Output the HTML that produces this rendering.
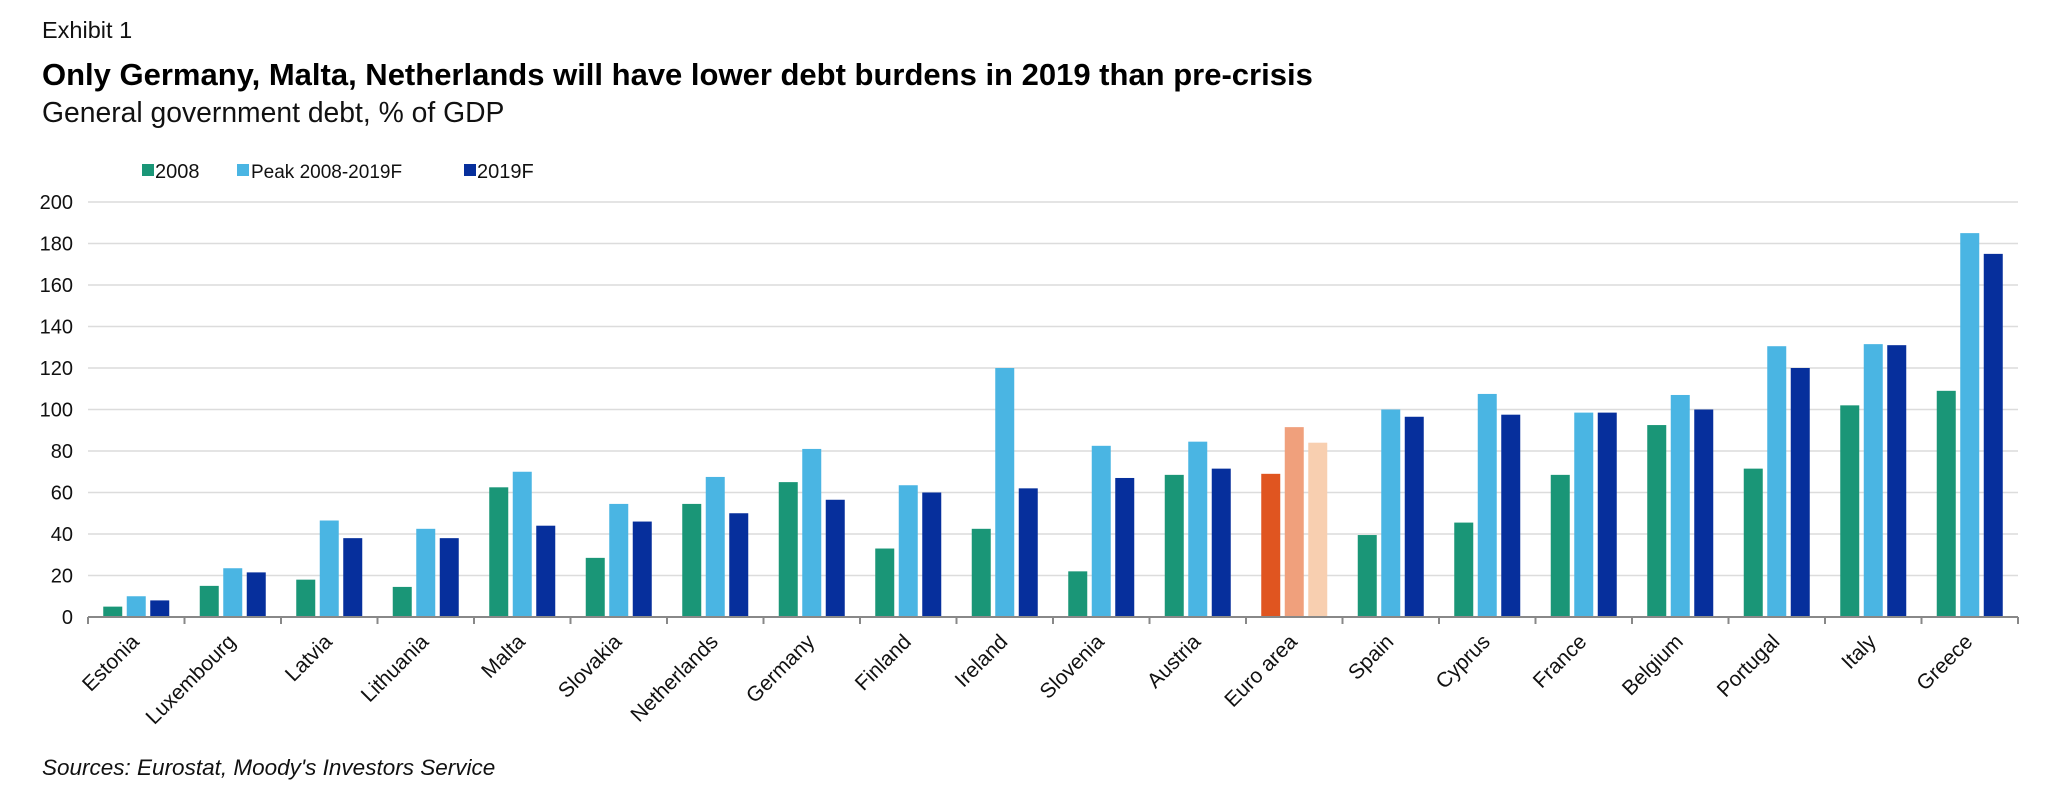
<!DOCTYPE html>
<html><head><meta charset="utf-8">
<style>
body{margin:0;background:#fff;}
svg{display:block;font-family:"Liberation Sans",sans-serif;}
</style></head>
<body>
<svg id="chart" width="2048" height="795" viewBox="0 0 2048 795">
  <text x="42" y="38" font-size="23.5" fill="#111">Exhibit 1</text>
  <text x="42" y="85" font-size="31" font-weight="bold" fill="#000">Only Germany, Malta, Netherlands will have lower debt burdens in 2019 than pre-crisis</text>
  <text x="42" y="122" font-size="28.3" fill="#111">General government debt, % of GDP</text>
  <g>
    <g><rect x="142" y="164" width="12" height="12" fill="#1a9677"/><text x="155" y="178" font-size="20" fill="#111">2008</text></g>
    <g><rect x="237" y="164" width="12" height="12" fill="#4ab5e3"/><text x="251" y="178" font-size="19" fill="#111">Peak 2008-2019F</text></g>
    <g><rect x="464" y="164" width="12" height="12" fill="#062f9c"/><text x="477" y="178" font-size="20" fill="#111">2019F</text></g>
  </g>
  <g id="grid"></g>
  <g id="bars"></g>
  <g id="axis"></g>
  <text x="42" y="775" font-size="22.5" font-style="italic" fill="#111">Sources: Eurostat, Moody's Investors Service</text>
</svg>
<script>
const categories = ["Estonia","Luxembourg","Latvia","Lithuania","Malta","Slovakia","Netherlands","Germany","Finland","Ireland","Slovenia","Austria","Euro area","Spain","Cyprus","France","Belgium","Portugal","Italy","Greece"];
const values2008 = [5,15,18,14.5,62.5,28.5,54.5,65,33,42.5,22,68.5,69,39.5,45.5,68.5,92.5,71.5,102,109];
const valuesPeak = [10,23.5,46.5,42.5,70,54.5,67.5,81,63.5,120,82.5,84.5,91.5,100,107.5,98.5,107,130.5,131.5,185];
const values2019 = [8,21.5,38,38,44,46,50,56.5,60,62,67,71.5,84,96.5,97.5,98.5,100,120,131,175];
const yTicks = [0,20,40,60,80,100,120,140,160,180,200];

const NS="http://www.w3.org/2000/svg";
const L=88,R=2018,T=202,B=617,YMAX=200;
const cw=(R-L)/categories.length;
const y=v=>B-(v/YMAX)*(B-T);
const xc=i=>L+(i+0.5)*cw;
function mk(tag,attrs,parent){const e=document.createElementNS(NS,tag);for(const k in attrs)e.setAttribute(k,attrs[k]);parent.appendChild(e);return e;}
const grid=document.getElementById('grid'),bars=document.getElementById('bars'),axis=document.getElementById('axis');
yTicks.forEach(t=>{
  if(t>0){const g=mk('line',{x1:L,x2:R,y1:y(t),y2:y(t),stroke:'#dcdcdc','stroke-width':1.5},grid);
  
  }
  const lb=mk('text',{x:73,y:y(t)+7,'text-anchor':'end','font-size':20,fill:'#111'},axis);
  lb.textContent=t;
  
  
});
const bw=19,step=23.5;
const series=[values2008,valuesPeak,values2019];
const cols=[["#1a9677","#4ab5e3","#062f9c"],["#e05520","#f0a07c","#f8cfb0"]];
const snames=['2008','peak','2019f'];
categories.forEach((c,i)=>{
  const pal=c==="Euro area"?cols[1]:cols[0];
  series.forEach((s,j)=>{
    const x=xc(i)+(j-1)*step-bw/2;
    const r=mk('rect',{x:x,y:y(s[i]),width:bw,height:B-y(s[i]),fill:pal[j]},bars);
    
    
  });
  const tx=xc(i)+4,ty=B+26;
  const lb=mk('text',{x:tx,y:ty,'text-anchor':'end','font-size':21,fill:'#111',transform:`rotate(-45 ${tx} ${ty})`},axis);
  lb.textContent=c;
  
  
});
const ax=mk('line',{x1:L,x2:R,y1:B,y2:B,stroke:'#888','stroke-width':2},axis);


for(let i=0;i<=categories.length;i++){
  const tk=mk('line',{x1:L+i*cw,x2:L+i*cw,y1:B,y2:B+7,stroke:'#888','stroke-width':2},axis);
  
  
}
</script>
</body></html>
